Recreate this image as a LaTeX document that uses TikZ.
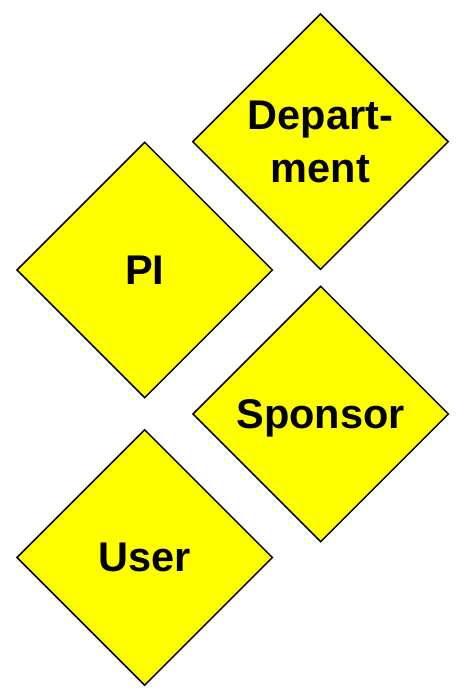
\documentclass[tikz,border=0pt]{standalone}
\usepackage{fontspec}
\setmainfont{Liberation Sans}
\usetikzlibrary{shapes.geometric}
\definecolor{roleyellow}{RGB}{255,255,0}
\tikzset{
  rolebox/.style={shape=diamond, draw=black, fill=roleyellow, line width=1.5pt,
    minimum width=256pt, minimum height=256pt, inner sep=0pt},
  roletext/.style={font=\bfseries\fontsize{41.5}{53}\selectfont, align=center, inner sep=0pt, text=black}
}
\begin{document}
\begin{tikzpicture}[x=1pt,y=-1pt]
\useasboundingbox (0,0) rectangle (461,691);
\node[rolebox] (dept) at (320.5,141.7) {};
\node[rolebox] (pi) at (144.7,270) {};
\node[rolebox] (sponsor) at (320.7,414) {};
\node[rolebox] (user) at (144.7,557.5) {};
\node[roletext] (depttext) at (dept.center) {Depart-\\ment};
\node[roletext] (pitext) at (pi.center) {PI};
\node[roletext, text depth=0pt] (sponsortext) at (sponsor.center) {Sponsor};
\node[roletext] (usertext) at (user.center) {User};
\end{tikzpicture}
\end{document}
